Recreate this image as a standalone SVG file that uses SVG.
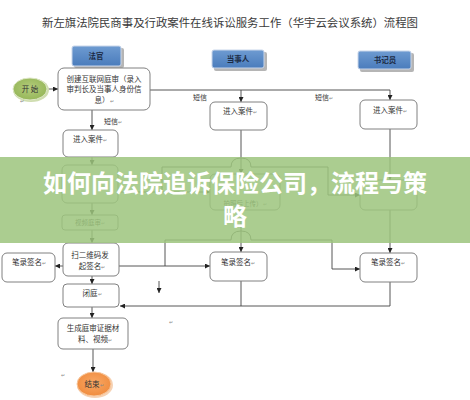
<svg xmlns="http://www.w3.org/2000/svg" width="470" height="400" viewBox="0 0 470 400">
<style>
text{font-family:"Noto Sans CJK SC","Liberation Sans",sans-serif;fill:#333}
.t{font-size:7.5px;text-anchor:middle}
.h{font-size:7.5px;font-weight:bold;text-anchor:middle;fill:#1c2b44}
.box{fill:#fff;stroke:#808080;stroke-width:1}
.hd{fill:url(#blue);stroke:#c9d6ea;stroke-width:1}
.sh{fill:#b5b5b5}
.c{fill:none;stroke:#444;stroke-width:0.9}
.a{marker-end:url(#ar)}
.pm{font-size:5px;fill:#888}
</style>
<defs>
<marker id="ar" viewBox="0 0 6 6" refX="6" refY="3" markerWidth="5" markerHeight="5" orient="auto" markerUnits="userSpaceOnUse">
<path d="M0,0 L6,3 L0,6 Z" fill="#222"/>
</marker>
<linearGradient id="blue" x1="0" y1="0" x2="0" y2="1">
<stop offset="0" stop-color="#6e9bd1"/>
<stop offset="1" stop-color="#4a7cbc"/>
</linearGradient>
<radialGradient id="green" cx="0.5" cy="0.45" r="0.6">
<stop offset="0" stop-color="#b4cc7c"/>
<stop offset="1" stop-color="#93b556"/>
</radialGradient>
<radialGradient id="orange" cx="0.5" cy="0.45" r="0.6">
<stop offset="0" stop-color="#f9a865"/>
<stop offset="1" stop-color="#ef8a3c"/>
</radialGradient>
</defs>
<rect width="470" height="400" fill="#fff"/>

<text x="230" y="27" style="font-size:11px;text-anchor:middle;fill:#3a3a3a" textLength="376" lengthAdjust="spacingAndGlyphs">新左旗法院民商事及行政案件在线诉讼服务工作（华宇云会议系统）流程图</text>

<g id="connectors">
<path class="c a" d="M47,89 H58"/>
<path class="c a" d="M150,90 H390 V100"/>
<path class="c a" d="M241,90 V102"/>
<path class="c a" d="M92,110 V130"/>
<path class="c a" d="M92,157 V165"/>
<path class="c a" d="M241,130 V174"/>
<path class="c a" d="M118,192 H210"/>
<path class="c a" d="M162,192 V167 H231 q0,-9 10,-9 q10,0 10,9 H328 V195 H360"/>
<path class="c a" d="M92,203 V215"/>
<path class="c a" d="M92,230 V243"/>
<path class="c a" d="M390,129 V180"/>
<path class="c a" d="M390,210 V253"/>
<path class="c a" d="M241,210 V252"/>
<path class="c a" d="M63,266 H55"/>
<path class="c a" d="M119,266 H210"/>
<path class="c a" d="M165,266 V240 H231 q0,-9 10,-9 q10,0 10,9 H332 V269 H360"/>
<path class="c" d="M241,281 V306"/>
<path class="c a" d="M390,282 V306 H120"/>
<path class="c a" d="M92,276 V284"/>
<path class="c a" d="M92,307 V318"/>
<path class="c a" d="M93,349 V372"/>
<path class="c a" d="M159,281 V293"/>
</g>

<text x="104" y="124" style="font-size:7px">短信<tspan class="pm">↵</tspan></text>
<text x="193" y="100" style="font-size:7px">短信</text>
<text x="315" y="100" style="font-size:7px">短信<tspan class="pm">↵</tspan></text>

<g id="hdr-judge">
<rect class="sh" x="74" y="48" width="50" height="20" rx="2"/>
<rect class="hd" x="72" y="46" width="49" height="20" rx="2"/>
<text class="h" x="96" y="59">法官</text>
</g>
<g id="hdr-party">
<rect class="sh" x="214" y="52" width="53" height="19" rx="2"/>
<rect class="hd" x="212" y="50" width="52" height="18" rx="2"/>
<text class="h" x="238" y="62">当事人</text>
</g>
<g id="hdr-clerk">
<rect class="sh" x="360" y="53" width="54" height="19" rx="2"/>
<rect class="hd" x="358" y="51" width="53" height="18" rx="2"/>
<text class="h" x="385" y="63">书记员</text>
</g>

<g id="start">
<ellipse cx="31" cy="90" rx="18" ry="12" fill="#cfddb0"/>
<ellipse cx="30" cy="89" rx="17" ry="11" fill="url(#green)" stroke="#dfe8c8" stroke-width="1"/>
<text class="t" x="30" y="92">开 始</text>
</g>
<text class="pm" x="20" y="103">↵</text>

<g id="create">
<rect class="box" x="58" y="68" width="92" height="42" rx="6"/>
<text class="t" x="104" y="82">创建互联网庭审（录入</text>
<text class="t" x="104" y="92">审判长及当事人身份信</text>
<text class="t" x="104" y="103">息）<tspan class="pm">↵</tspan></text>
</g>

<g id="judge-enter">
<rect class="box" x="63" y="130" width="55" height="27" rx="5"/>
<text class="t" x="90" y="142">进入案件<tspan class="pm">↵</tspan></text>
</g>
<g id="party-enter">
<rect class="box" x="210" y="102" width="57" height="28" rx="5"/>
<text class="t" x="240" y="114">进入案件<tspan class="pm">↵</tspan></text>
</g>
<g id="clerk-enter">
<rect class="box" x="360" y="100" width="57" height="29" rx="5"/>
<text class="t" x="390" y="113">进入案件<tspan class="pm">↵</tspan></text>
</g>

<g id="judge-a">
<rect class="box" x="62" y="165" width="56" height="38" rx="5"/>
</g>
<g id="video">
<rect class="box" x="62" y="215" width="56" height="15" rx="3"/>
<text class="t" x="90" y="225" style="font-size:6.5px">视频庭审<tspan class="pm">↵</tspan></text>
</g>
<g id="party-b">
<rect class="box" x="210" y="174" width="70" height="36" rx="5"/>
<text class="t" x="245" y="206" style="font-size:6.5px">拍照后上传）<tspan class="pm">↵</tspan></text>
</g>
<g id="clerk-c">
<rect class="box" x="360" y="180" width="57" height="30" rx="5"/>
</g>

<g id="scan">
<rect class="box" x="63" y="243" width="56" height="33" rx="5"/>
<text class="t" x="90" y="258">扫二维码发</text>
<text class="t" x="92" y="269">起签名<tspan class="pm">↵</tspan></text>
</g>
<g id="sign-left">
<rect class="box" x="2" y="253" width="53" height="29" rx="5"/>
<text class="t" x="29" y="265">笔录签名<tspan class="pm">↵</tspan></text>
</g>
<g id="sign-party">
<rect class="box" x="210" y="252" width="57" height="29" rx="5"/>
<text class="t" x="238" y="265">笔录签名<tspan class="pm">↵</tspan></text>
</g>
<g id="sign-clerk">
<rect class="box" x="360" y="253" width="57" height="29" rx="5"/>
<text class="t" x="388" y="265">笔录签名<tspan class="pm">↵</tspan></text>
</g>
<g id="close">
<rect class="box" x="63" y="284" width="56" height="23" rx="4"/>
<text class="t" x="92" y="296">闭庭<tspan class="pm">↵</tspan></text>
</g>
<g id="gen">
<rect class="box" x="58" y="318" width="70" height="31" rx="5"/>
<text class="t" x="93" y="331">生成庭审证据材</text>
<text class="t" x="95" y="342">料、视频<tspan class="pm">↵</tspan></text>
</g>
<text class="pm" x="169" y="324">↵</text>
<text class="pm" x="61" y="377">↵</text>
<g id="end">
<ellipse cx="95" cy="385" rx="18" ry="13" fill="#f6d2b4"/>
<ellipse cx="94" cy="384" rx="17" ry="12" fill="url(#orange)" stroke="#f8c9a0" stroke-width="1"/>
<text class="t" x="94" y="387">结束<tspan class="pm">↵</tspan></text>
</g>

<g id="banner">
<rect x="0" y="157" width="470" height="86" fill="#9dc57e" opacity="0.86"/>
<text x="235" y="192" style="font-size:24px;font-weight:bold;text-anchor:middle;fill:#fff" textLength="384" lengthAdjust="spacingAndGlyphs">如何向法院追诉保险公司，流程与策</text>
<text x="235" y="225" style="font-size:24px;font-weight:bold;text-anchor:middle;fill:#fff">略</text>
</g>
</svg>
